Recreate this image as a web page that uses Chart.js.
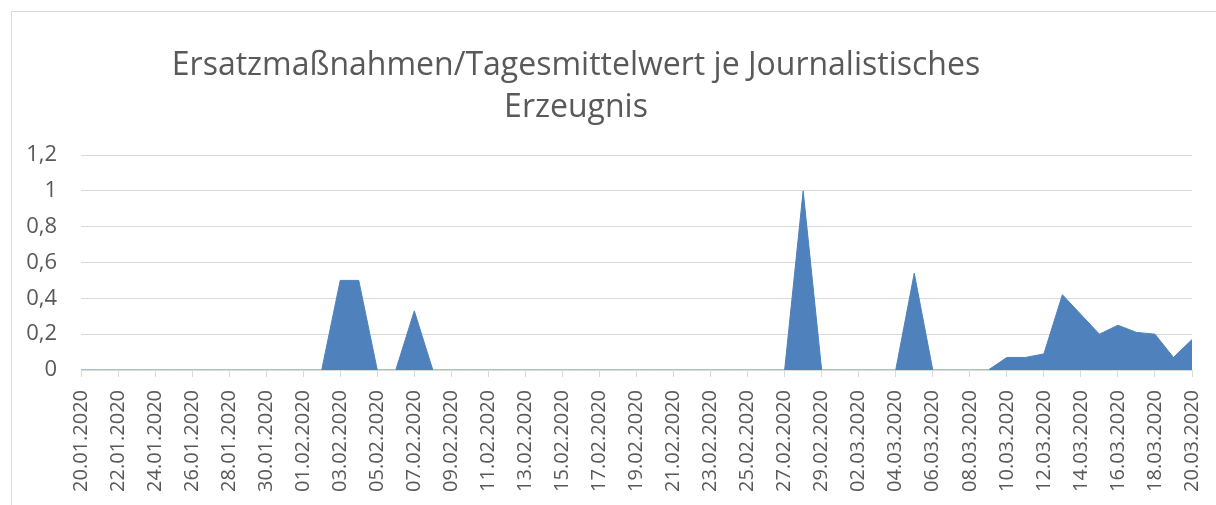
<!DOCTYPE html>
<html lang="de">
<head>
<meta charset="utf-8">
<title>Ersatzmaßnahmen/Tagesmittelwert</title>
<script src="https://cdn.jsdelivr.net/npm/chart.js@4"></script>
<style>
    html, body {
        margin: 0;
        padding: 0;
        background: #ffffff;
    }
    .wrap {
        position: relative;
        width: 1216px;
        height: 505px;
        overflow: hidden;
    }
    .frame {
        position: absolute;
        left: 11px;
        top: 11px;
        right: -2px;
        bottom: -2px;
        border-left: 1px solid #d9d9d9;
        border-top: 1px solid #d9d9d9;
        pointer-events: none;
    }
    #chart {
        position: absolute;
        left: 0;
        top: 0;
    }
</style>
</head>
<body>
<div class="wrap">
    <canvas id="chart" width="1216" height="505"></canvas>
    <div class="frame"></div>
</div>
<script>
// Chart data
const titleLines = ['Ersatzmaßnahmen/Tagesmittelwert je Journalistisches', 'Erzeugnis'];

const dateLabels = [
    '20.01.2020', '21.01.2020', '22.01.2020', '23.01.2020', '24.01.2020', '25.01.2020',
    '26.01.2020', '27.01.2020', '28.01.2020', '29.01.2020', '30.01.2020', '31.01.2020',
    '01.02.2020', '02.02.2020', '03.02.2020', '04.02.2020', '05.02.2020', '06.02.2020',
    '07.02.2020', '08.02.2020', '09.02.2020', '10.02.2020', '11.02.2020', '12.02.2020',
    '13.02.2020', '14.02.2020', '15.02.2020', '16.02.2020', '17.02.2020', '18.02.2020',
    '19.02.2020', '20.02.2020', '21.02.2020', '22.02.2020', '23.02.2020', '24.02.2020',
    '25.02.2020', '26.02.2020', '27.02.2020', '28.02.2020', '29.02.2020', '01.03.2020',
    '02.03.2020', '03.03.2020', '04.03.2020', '05.03.2020', '06.03.2020', '07.03.2020',
    '08.03.2020', '09.03.2020', '10.03.2020', '11.03.2020', '12.03.2020', '13.03.2020',
    '14.03.2020', '15.03.2020', '16.03.2020', '17.03.2020', '18.03.2020', '19.03.2020',
    '20.03.2020'
];

const dailyValues = [
    0, 0, 0, 0, 0, 0,
    0, 0, 0, 0, 0, 0,
    0, 0, 0.5, 0.5, 0, 0,
    0.33, 0, 0, 0, 0, 0,
    0, 0, 0, 0, 0, 0,
    0, 0, 0, 0, 0, 0,
    0, 0, 0, 1, 0, 0,
    0, 0, 0, 0.54, 0, 0,
    0, 0, 0.07, 0.07, 0.09, 0.42,
    0.31, 0.2, 0.25, 0.21, 0.2, 0.07,
    0.17
];

const yMin = 0;
const yMax = 1.2;
const yStep = 0.2;

const textColor = '#595959';
const gridColor = '#d9d9d9';
const areaColor = '#4f81bd';

// Title drawn centred over the plot like in the original
const titlePlugin = {
    id: 'excelTitle',
    afterDraw(chart) {
        const c = chart.ctx;
        c.save();
        c.fillStyle = textColor;
        c.font = '32px "Open Sans", sans-serif';
        c.textAlign = 'center';
        c.textBaseline = 'alphabetic';
        c.fillText(titleLines[0], 576, 75);
        c.fillText(titleLines[1], 576, 117);
        c.restore();
    }
};

function formatNumber(v) {
    return String(Math.round(v * 10) / 10).replace('.', ',');
}

new Chart(document.getElementById('chart'), {
    type: 'line',
    data: {
        labels: dateLabels,
        datasets: [{
            data: dailyValues,
            fill: 'origin',
            backgroundColor: areaColor,
            borderColor: areaColor,
            borderWidth: 1,
            pointRadius: 0,
            tension: 0
        }]
    },
    options: {
        responsive: false,
        animation: false,
        layout: {
            padding: { top: 155, right: 24, left: 0, bottom: 0 }
        },
        plugins: {
            legend: { display: false },
            tooltip: { enabled: false },
            title: { display: false }
        },
        scales: {
            x: {
                offset: false,
                grid: {
                    drawOnChartArea: false,
                    color: gridColor,
                    tickLength: 7
                },
                border: { color: gridColor },
                ticks: {
                    autoSkip: false,
                    minRotation: 90,
                    maxRotation: 90,
                    padding: 13,
                    color: textColor,
                    font: { family: '"Open Sans", sans-serif', size: 20 },
                    callback: (value, index) => index % 2 === 0 ? dateLabels[index] : null
                },
                afterFit: scale => {
                    scale.height = 135;
                    // let the last rotated label hang over the edge, as in Excel
                    scale.paddingLeft = 0;
                    scale.paddingRight = 0;
                }
            },
            y: {
                min: yMin,
                max: yMax,
                grid: {
                    color: gridColor,
                    drawTicks: false
                },
                border: { display: false },
                ticks: {
                    stepSize: yStep,
                    padding: 24,
                    color: textColor,
                    font: { family: '"Open Sans", sans-serif', size: 22 },
                    callback: value => formatNumber(value)
                },
                afterFit: scale => { scale.width = 81; }
            }
        }
    },
    plugins: [titlePlugin]
});
</script>
</body>
</html>
